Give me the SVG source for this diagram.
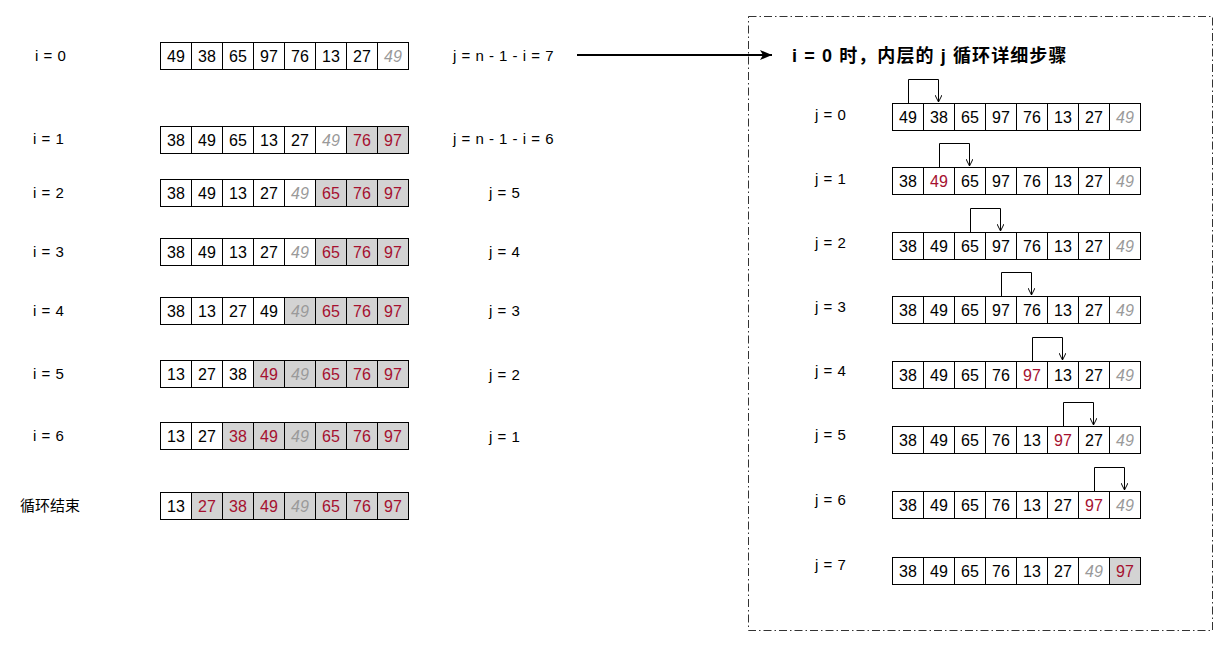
<svg xmlns="http://www.w3.org/2000/svg" width="1228" height="647" viewBox="0 0 1228 647">
<style>
.bg{fill:#fff}
g.row rect{fill:#fff;stroke:#000;stroke-width:1}
g.row rect.sh{fill:#d3d3d3}
g.row text{font-family:"Liberation Sans",Arial,sans-serif;font-size:16px;text-anchor:middle;fill:#000}
g.row text.r{fill:#a5102f}
g.row text.g{fill:#9a9a9a;font-style:italic}
.lbl{font-family:"Liberation Sans",Arial,"Noto Sans CJK SC",sans-serif;font-size:15px;word-spacing:1px;fill:#000}
.title{font-family:"Liberation Sans",Arial,"Noto Sans CJK SC",sans-serif;font-size:18px;font-weight:bold;fill:#000;letter-spacing:1.1px}
.br{fill:none;stroke:#000;stroke-width:1}
</style>
<defs>
<marker id="v" viewBox="0 0 10 10" refX="10" refY="5" markerWidth="7" markerHeight="7" markerUnits="userSpaceOnUse" orient="auto">
<path d="M0,0 L10,5 L0,10" fill="none" stroke="#000" stroke-width="1.4"/>
</marker>
<marker id="big" viewBox="0 0 12 10" refX="12" refY="5" markerWidth="12" markerHeight="10" markerUnits="userSpaceOnUse" orient="auto">
<path d="M0,0 L12,5 L0,10 L3,5 Z" fill="#000"/>
</marker>
</defs>
<rect class="bg" width="1228" height="647"/>

<!-- left labels -->
<g id="labels-left">
<text class="lbl" x="35" y="61">i = 0</text>
<text class="lbl" x="33" y="144">i = 1</text>
<text class="lbl" x="33" y="198">i = 2</text>
<text class="lbl" x="33" y="257">i = 3</text>
<text class="lbl" x="33" y="316">i = 4</text>
<text class="lbl" x="33" y="379">i = 5</text>
<text class="lbl" x="33" y="441">i = 6</text>
<text class="lbl" x="20" y="511">循环结束</text>
<text class="lbl" x="453" y="61">j = n - 1 - i = 7</text>
<text class="lbl" x="453" y="144">j = n - 1 - i = 6</text>
<text class="lbl" x="489" y="198">j = 5</text>
<text class="lbl" x="489" y="257">j = 4</text>
<text class="lbl" x="489" y="316">j = 3</text>
<text class="lbl" x="489" y="380">j = 2</text>
<text class="lbl" x="489" y="442">j = 1</text>
</g>

<!-- left rows -->
<g id="row-i0" class="row" transform="translate(160.5,42.5)">
<rect x="0" width="31" height="27"/><rect x="31" width="31" height="27"/><rect x="62" width="31" height="27"/><rect x="93" width="31" height="27"/><rect x="124" width="31" height="27"/><rect x="155" width="31" height="27"/><rect x="186" width="31" height="27"/><rect x="217" width="31" height="27"/>
<text x="15.5" y="19.5">49</text><text x="46.5" y="19.5">38</text><text x="77.5" y="19.5">65</text><text x="108.5" y="19.5">97</text><text x="139.5" y="19.5">76</text><text x="170.5" y="19.5">13</text><text x="201.5" y="19.5">27</text><text class="g" x="232.5" y="19.5">49</text>
</g>
<g id="row-i1" class="row" transform="translate(160.5,126.5)">
<rect x="0" width="31" height="27"/><rect x="31" width="31" height="27"/><rect x="62" width="31" height="27"/><rect x="93" width="31" height="27"/><rect x="124" width="31" height="27"/><rect x="155" width="31" height="27"/><rect class="sh" x="186" width="31" height="27"/><rect class="sh" x="217" width="31" height="27"/>
<text x="15.5" y="19.5">38</text><text x="46.5" y="19.5">49</text><text x="77.5" y="19.5">65</text><text x="108.5" y="19.5">13</text><text x="139.5" y="19.5">27</text><text class="g" x="170.5" y="19.5">49</text><text class="r" x="201.5" y="19.5">76</text><text class="r" x="232.5" y="19.5">97</text>
</g>
<g id="row-i2" class="row" transform="translate(160.5,179.5)">
<rect x="0" width="31" height="27"/><rect x="31" width="31" height="27"/><rect x="62" width="31" height="27"/><rect x="93" width="31" height="27"/><rect x="124" width="31" height="27"/><rect class="sh" x="155" width="31" height="27"/><rect class="sh" x="186" width="31" height="27"/><rect class="sh" x="217" width="31" height="27"/>
<text x="15.5" y="19.5">38</text><text x="46.5" y="19.5">49</text><text x="77.5" y="19.5">13</text><text x="108.5" y="19.5">27</text><text class="g" x="139.5" y="19.5">49</text><text class="r" x="170.5" y="19.5">65</text><text class="r" x="201.5" y="19.5">76</text><text class="r" x="232.5" y="19.5">97</text>
</g>
<g id="row-i3" class="row" transform="translate(160.5,238.5)">
<rect x="0" width="31" height="27"/><rect x="31" width="31" height="27"/><rect x="62" width="31" height="27"/><rect x="93" width="31" height="27"/><rect x="124" width="31" height="27"/><rect class="sh" x="155" width="31" height="27"/><rect class="sh" x="186" width="31" height="27"/><rect class="sh" x="217" width="31" height="27"/>
<text x="15.5" y="19.5">38</text><text x="46.5" y="19.5">49</text><text x="77.5" y="19.5">13</text><text x="108.5" y="19.5">27</text><text class="g" x="139.5" y="19.5">49</text><text class="r" x="170.5" y="19.5">65</text><text class="r" x="201.5" y="19.5">76</text><text class="r" x="232.5" y="19.5">97</text>
</g>
<g id="row-i4" class="row" transform="translate(160.5,297.5)">
<rect x="0" width="31" height="27"/><rect x="31" width="31" height="27"/><rect x="62" width="31" height="27"/><rect x="93" width="31" height="27"/><rect class="sh" x="124" width="31" height="27"/><rect class="sh" x="155" width="31" height="27"/><rect class="sh" x="186" width="31" height="27"/><rect class="sh" x="217" width="31" height="27"/>
<text x="15.5" y="19.5">38</text><text x="46.5" y="19.5">13</text><text x="77.5" y="19.5">27</text><text x="108.5" y="19.5">49</text><text class="g" x="139.5" y="19.5">49</text><text class="r" x="170.5" y="19.5">65</text><text class="r" x="201.5" y="19.5">76</text><text class="r" x="232.5" y="19.5">97</text>
</g>
<g id="row-i5" class="row" transform="translate(160.5,360.5)">
<rect x="0" width="31" height="27"/><rect x="31" width="31" height="27"/><rect x="62" width="31" height="27"/><rect class="sh" x="93" width="31" height="27"/><rect class="sh" x="124" width="31" height="27"/><rect class="sh" x="155" width="31" height="27"/><rect class="sh" x="186" width="31" height="27"/><rect class="sh" x="217" width="31" height="27"/>
<text x="15.5" y="19.5">13</text><text x="46.5" y="19.5">27</text><text x="77.5" y="19.5">38</text><text class="r" x="108.5" y="19.5">49</text><text class="g" x="139.5" y="19.5">49</text><text class="r" x="170.5" y="19.5">65</text><text class="r" x="201.5" y="19.5">76</text><text class="r" x="232.5" y="19.5">97</text>
</g>
<g id="row-i6" class="row" transform="translate(160.5,422.5)">
<rect x="0" width="31" height="27"/><rect x="31" width="31" height="27"/><rect class="sh" x="62" width="31" height="27"/><rect class="sh" x="93" width="31" height="27"/><rect class="sh" x="124" width="31" height="27"/><rect class="sh" x="155" width="31" height="27"/><rect class="sh" x="186" width="31" height="27"/><rect class="sh" x="217" width="31" height="27"/>
<text x="15.5" y="19.5">13</text><text x="46.5" y="19.5">27</text><text class="r" x="77.5" y="19.5">38</text><text class="r" x="108.5" y="19.5">49</text><text class="g" x="139.5" y="19.5">49</text><text class="r" x="170.5" y="19.5">65</text><text class="r" x="201.5" y="19.5">76</text><text class="r" x="232.5" y="19.5">97</text>
</g>
<g id="row-end" class="row" transform="translate(160.5,492.5)">
<rect x="0" width="31" height="27"/><rect class="sh" x="31" width="31" height="27"/><rect class="sh" x="62" width="31" height="27"/><rect class="sh" x="93" width="31" height="27"/><rect class="sh" x="124" width="31" height="27"/><rect class="sh" x="155" width="31" height="27"/><rect class="sh" x="186" width="31" height="27"/><rect class="sh" x="217" width="31" height="27"/>
<text x="15.5" y="19.5">13</text><text class="r" x="46.5" y="19.5">27</text><text class="r" x="77.5" y="19.5">38</text><text class="r" x="108.5" y="19.5">49</text><text class="g" x="139.5" y="19.5">49</text><text class="r" x="170.5" y="19.5">65</text><text class="r" x="201.5" y="19.5">76</text><text class="r" x="232.5" y="19.5">97</text>
</g>

<!-- detail panel -->
<g id="panel">
<rect x="748.5" y="16.5" width="464" height="614" fill="none" stroke="#333" stroke-width="1" stroke-dasharray="8 3 1.5 3"/>
<text class="title" x="792" y="62">i = 0 时，内层的 j 循环详细步骤</text>
<text class="lbl" x="815" y="120">j = 0</text>
<text class="lbl" x="815" y="184">j = 1</text>
<text class="lbl" x="815" y="248">j = 2</text>
<text class="lbl" x="815" y="312">j = 3</text>
<text class="lbl" x="815" y="376">j = 4</text>
<text class="lbl" x="815" y="440">j = 5</text>
<text class="lbl" x="815" y="505">j = 6</text>
<text class="lbl" x="815" y="570">j = 7</text>
</g>

<g id="row-j0" class="row" transform="translate(892.5,103.5)">
<rect x="0" width="31" height="27"/><rect x="31" width="31" height="27"/><rect x="62" width="31" height="27"/><rect x="93" width="31" height="27"/><rect x="124" width="31" height="27"/><rect x="155" width="31" height="27"/><rect x="186" width="31" height="27"/><rect x="217" width="31" height="27"/>
<text x="15.5" y="19.5">49</text><text x="46.5" y="19.5">38</text><text x="77.5" y="19.5">65</text><text x="108.5" y="19.5">97</text><text x="139.5" y="19.5">76</text><text x="170.5" y="19.5">13</text><text x="201.5" y="19.5">27</text><text class="g" x="232.5" y="19.5">49</text>
</g>
<g id="row-j1" class="row" transform="translate(892.5,167.5)">
<rect x="0" width="31" height="27"/><rect x="31" width="31" height="27"/><rect x="62" width="31" height="27"/><rect x="93" width="31" height="27"/><rect x="124" width="31" height="27"/><rect x="155" width="31" height="27"/><rect x="186" width="31" height="27"/><rect x="217" width="31" height="27"/>
<text x="15.5" y="19.5">38</text><text class="r" x="46.5" y="19.5">49</text><text x="77.5" y="19.5">65</text><text x="108.5" y="19.5">97</text><text x="139.5" y="19.5">76</text><text x="170.5" y="19.5">13</text><text x="201.5" y="19.5">27</text><text class="g" x="232.5" y="19.5">49</text>
</g>
<g id="row-j2" class="row" transform="translate(892.5,232.5)">
<rect x="0" width="31" height="27"/><rect x="31" width="31" height="27"/><rect x="62" width="31" height="27"/><rect x="93" width="31" height="27"/><rect x="124" width="31" height="27"/><rect x="155" width="31" height="27"/><rect x="186" width="31" height="27"/><rect x="217" width="31" height="27"/>
<text x="15.5" y="19.5">38</text><text x="46.5" y="19.5">49</text><text x="77.5" y="19.5">65</text><text x="108.5" y="19.5">97</text><text x="139.5" y="19.5">76</text><text x="170.5" y="19.5">13</text><text x="201.5" y="19.5">27</text><text class="g" x="232.5" y="19.5">49</text>
</g>
<g id="row-j3" class="row" transform="translate(892.5,296.5)">
<rect x="0" width="31" height="27"/><rect x="31" width="31" height="27"/><rect x="62" width="31" height="27"/><rect x="93" width="31" height="27"/><rect x="124" width="31" height="27"/><rect x="155" width="31" height="27"/><rect x="186" width="31" height="27"/><rect x="217" width="31" height="27"/>
<text x="15.5" y="19.5">38</text><text x="46.5" y="19.5">49</text><text x="77.5" y="19.5">65</text><text x="108.5" y="19.5">97</text><text x="139.5" y="19.5">76</text><text x="170.5" y="19.5">13</text><text x="201.5" y="19.5">27</text><text class="g" x="232.5" y="19.5">49</text>
</g>
<g id="row-j4" class="row" transform="translate(892.5,361.5)">
<rect x="0" width="31" height="27"/><rect x="31" width="31" height="27"/><rect x="62" width="31" height="27"/><rect x="93" width="31" height="27"/><rect x="124" width="31" height="27"/><rect x="155" width="31" height="27"/><rect x="186" width="31" height="27"/><rect x="217" width="31" height="27"/>
<text x="15.5" y="19.5">38</text><text x="46.5" y="19.5">49</text><text x="77.5" y="19.5">65</text><text x="108.5" y="19.5">76</text><text class="r" x="139.5" y="19.5">97</text><text x="170.5" y="19.5">13</text><text x="201.5" y="19.5">27</text><text class="g" x="232.5" y="19.5">49</text>
</g>
<g id="row-j5" class="row" transform="translate(892.5,426.5)">
<rect x="0" width="31" height="27"/><rect x="31" width="31" height="27"/><rect x="62" width="31" height="27"/><rect x="93" width="31" height="27"/><rect x="124" width="31" height="27"/><rect x="155" width="31" height="27"/><rect x="186" width="31" height="27"/><rect x="217" width="31" height="27"/>
<text x="15.5" y="19.5">38</text><text x="46.5" y="19.5">49</text><text x="77.5" y="19.5">65</text><text x="108.5" y="19.5">76</text><text x="139.5" y="19.5">13</text><text class="r" x="170.5" y="19.5">97</text><text x="201.5" y="19.5">27</text><text class="g" x="232.5" y="19.5">49</text>
</g>
<g id="row-j6" class="row" transform="translate(892.5,491.5)">
<rect x="0" width="31" height="27"/><rect x="31" width="31" height="27"/><rect x="62" width="31" height="27"/><rect x="93" width="31" height="27"/><rect x="124" width="31" height="27"/><rect x="155" width="31" height="27"/><rect x="186" width="31" height="27"/><rect x="217" width="31" height="27"/>
<text x="15.5" y="19.5">38</text><text x="46.5" y="19.5">49</text><text x="77.5" y="19.5">65</text><text x="108.5" y="19.5">76</text><text x="139.5" y="19.5">13</text><text x="170.5" y="19.5">27</text><text class="r" x="201.5" y="19.5">97</text><text class="g" x="232.5" y="19.5">49</text>
</g>
<g id="row-j7" class="row" transform="translate(892.5,557.5)">
<rect x="0" width="31" height="27"/><rect x="31" width="31" height="27"/><rect x="62" width="31" height="27"/><rect x="93" width="31" height="27"/><rect x="124" width="31" height="27"/><rect x="155" width="31" height="27"/><rect x="186" width="31" height="27"/><rect class="sh" x="217" width="31" height="27"/>
<text x="15.5" y="19.5">38</text><text x="46.5" y="19.5">49</text><text x="77.5" y="19.5">65</text><text x="108.5" y="19.5">76</text><text x="139.5" y="19.5">13</text><text x="170.5" y="19.5">27</text><text class="g" x="201.5" y="19.5">49</text><text class="r" x="232.5" y="19.5">97</text>
</g>

<!-- connectors -->
<g id="connectors">
<path d="M577,55 L772,55" fill="none" stroke="#000" stroke-width="2.2" marker-end="url(#big)"/>
<path class="br" d="M908.5,103 V79.5 H938.5 V102" marker-end="url(#v)"/>
<path class="br" d="M939.5,167 V143.5 H969.5 V166" marker-end="url(#v)"/>
<path class="br" d="M970.5,232 V208.5 H1000.5 V231" marker-end="url(#v)"/>
<path class="br" d="M1001.5,296 V272.5 H1031.5 V295" marker-end="url(#v)"/>
<path class="br" d="M1032.5,361 V337.5 H1062.5 V360" marker-end="url(#v)"/>
<path class="br" d="M1063.5,426 V402.5 H1093.5 V425" marker-end="url(#v)"/>
<path class="br" d="M1094.5,491 V467.5 H1124.5 V490" marker-end="url(#v)"/>
</g>
</svg>
